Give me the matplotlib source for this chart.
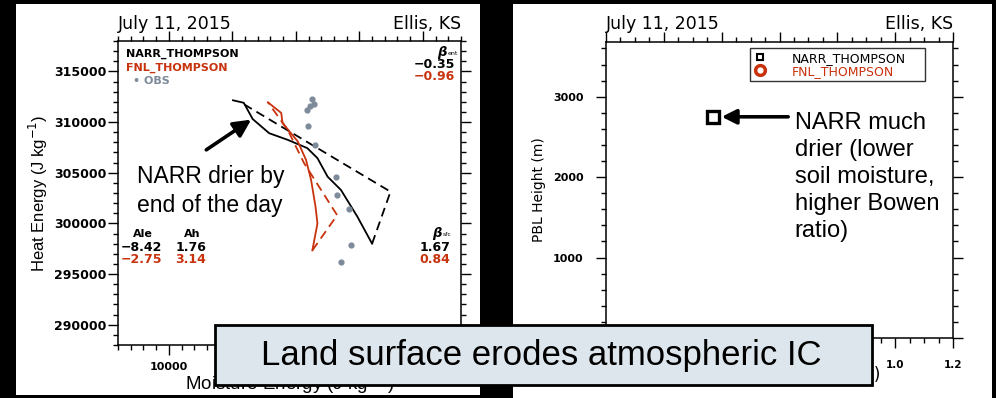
import matplotlib
matplotlib.use("Agg")
import matplotlib.pyplot as plt
from matplotlib.patches import Rectangle
from matplotlib.lines import Line2D
from matplotlib.ticker import MultipleLocator, FormatStrFormatter

plt.rcParams['font.family'] = ['DejaVu Sans']
SLIDE = ['Liberation Sans', 'DejaVu Sans']   # Arial-like font for the slide texts

RED = '#c8320c'
GREY = '#7d8a9a'

# left panel: heat energy vs moisture energy (J kg-1)
narr_me = [20100, 21800, 23200, 25800, 28700, 31800, 33400, 35000, 37100, 39700, 42000]
narr_he = [312150, 311900, 310300, 308900, 308250, 307430, 306440, 304610, 303300, 300650, 298000]
narr_close_me = [42000, 44900, 21900]
narr_close_he = [298000, 303130, 311730]

fnl_me = [25600, 27700, 27900, 30300, 31600, 32400, 33100, 33400, 32600]
fnl_he = [311950, 310900, 309910, 308090, 306270, 304290, 301640, 299990, 297340]
fnl_close_me = [32600, 36500, 31300, 28700, 25600]
fnl_close_he = [297340, 300810, 305940, 309250, 311950]

obs_me = [32600, 32800, 32250, 31700, 31850, 33000, 36300, 36500, 38350, 38700, 37150]
obs_he = [312320, 311800, 311560, 311230, 309570, 307760, 304610, 302800, 301380, 297870, 296220]

beta_ent = ['\u22120.35', '\u22120.96']
beta_sfc = ['1.67', '0.84']
ale = ['\u22128.42', '\u22122.75']
ah = ['1.76', '3.14']

# right panel: PBL height
narr_x = [0.37]
narr_pbl = [2750]

fig = plt.figure(figsize=(9.96, 3.98), dpi=100)
fig.patch.set_facecolor('black')

W, H = 996, 398


def fig_rect(x0, y0, x1, y1, **kw):
    # pixel box (top-left origin) -> figure fraction
    r = Rectangle((x0 / W, 1 - y1 / H), (x1 - x0) / W, (y1 - y0) / H,
                  transform=fig.transFigure, **kw)
    fig.patches.append(r)
    return r


fig_rect(16, 4, 480, 395, facecolor='white', edgecolor='none', zorder=-10)
fig_rect(513, 4, 992, 398, facecolor='white', edgecolor='none', zorder=-10)

ax1 = fig.add_axes([118 / W, 1 - 345 / H, 343 / W, 304 / H])
ax2 = fig.add_axes([606 / W, 1 - 338 / H, 347 / W, 296 / H])

for ax in (ax1, ax2):
    ax.tick_params(which='both', direction='out', top=True, right=True,
                   labeltop=False, labelright=False, width=1.0)
    ax.tick_params(which='major', length=7)
    ax.tick_params(which='minor', length=3.5)
    for s in ax.spines.values():
        s.set_linewidth(1.1)

# ---- left panel
ax1.plot(narr_me, narr_he, color='black', lw=1.3)
ax1.plot(narr_close_me, narr_close_he, color='black', lw=1.3, ls=(0, (5, 3)))
ax1.plot(fnl_me, fnl_he, color=RED, lw=1.3)
ax1.plot(fnl_close_me, fnl_close_he, color=RED, lw=1.3, ls=(0, (5, 3)))
ax1.scatter(obs_me, obs_he, s=12, color=GREY, zorder=3)

ax1.set_xlim(2000, 56000)
ax1.set_ylim(288000, 318000)
ax1.xaxis.set_major_locator(MultipleLocator(10000))
ax1.xaxis.set_minor_locator(MultipleLocator(2000))
ax1.yaxis.set_major_locator(MultipleLocator(5000))
ax1.yaxis.set_minor_locator(MultipleLocator(1000))
ax1.ticklabel_format(useOffset=False, style='plain')
ax1.tick_params(axis='y', labelsize=9, pad=1.5)
ax1.tick_params(axis='x', labelsize=8, pad=5)
for lab in ax1.get_xticklabels() + ax1.get_yticklabels():
    lab.set_fontweight('bold')
ax1.set_xlabel('Moisture Energy (J kg$^{-1}$)', fontsize=13.5, labelpad=-1,
               family=SLIDE)
ax1.set_ylabel('Heat Energy (J kg$^{-1}$)', fontsize=12, labelpad=3,
               family=SLIDE)

ax1.text(0.0, 1.039, 'July 11, 2015', transform=ax1.transAxes, fontsize=12.5,
         ha='left', va='baseline')
ax1.text(1.0, 1.039, 'Ellis, KS', transform=ax1.transAxes, fontsize=12.5,
         ha='right', va='baseline')

t = ax1.transAxes
ax1.text(0.023, 0.957, 'NARR_THOMPSON', transform=t, fontsize=8,
         fontweight='bold', color='black', va='center')
ax1.text(0.023, 0.911, 'FNL_THOMPSON', transform=t, fontsize=8,
         fontweight='bold', color=RED, va='center')
ax1.text(0.045, 0.868, '\u2022 OBS', transform=t, fontsize=8,
         fontweight='bold', color=GREY, va='center')

ax1.text(0.958, 0.962, '\u03b2', transform=t, fontsize=9.5, fontweight='bold',
         style='italic', ha='right', va='center')
ax1.text(0.960, 0.958, 'ent', transform=t, fontsize=4.5, ha='left', va='center')
ax1.text(0.982, 0.924, beta_ent[0], transform=t, fontsize=9,
         fontweight='bold', ha='right', va='center')
ax1.text(0.982, 0.882, beta_ent[1], transform=t, fontsize=9,
         fontweight='bold', ha='right', va='center', color=RED)

ax1.text(0.072, 0.365, 'Ale', transform=t, fontsize=8, fontweight='bold',
         ha='center', va='center')
ax1.text(0.215, 0.365, 'Ah', transform=t, fontsize=8, fontweight='bold',
         ha='center', va='center')
for i, c in enumerate(['black', RED]):
    yy = 0.322 - 0.042 * i
    ax1.text(0.068, yy, ale[i], transform=t, fontsize=9, fontweight='bold',
             ha='center', va='center', color=c)
    ax1.text(0.213, yy, ah[i], transform=t, fontsize=9, fontweight='bold',
             ha='center', va='center', color=c)
    ax1.text(0.968, yy, beta_sfc[i], transform=t, fontsize=9,
             fontweight='bold', ha='right', va='center', color=c)
ax1.text(0.945, 0.367, '\u03b2', transform=t, fontsize=9.5, fontweight='bold',
         style='italic', ha='right', va='center')
ax1.text(0.947, 0.362, 'sfc', transform=t, fontsize=4.5, ha='left', va='center')

ax1.annotate('', xy=(22970, 310240), xytext=(15900, 307260),
             arrowprops=dict(arrowstyle='-|>', color='black', lw=2.6,
                             mutation_scale=26, shrinkA=0, shrinkB=0))
ax1.text(0.055, 0.592, 'NARR drier by\nend of the day', transform=t,
         fontsize=16.5, ha='left', va='top', linespacing=1.33, family=SLIDE)

# ---- right panel
ax2.plot(narr_x, narr_pbl, ls='none', marker='s', ms=8, mfc='none',
         mec='black', mew=2.4)
ax2.set_xlim(0, 1.2)
ax2.set_ylim(0, 3680)
ax2.xaxis.set_major_locator(MultipleLocator(0.2))
ax2.xaxis.set_minor_locator(MultipleLocator(0.05))
ax2.yaxis.set_major_locator(MultipleLocator(1000))
ax2.yaxis.set_minor_locator(MultipleLocator(200))
ax2.xaxis.set_major_formatter(FormatStrFormatter('%.1f'))
ax2.tick_params(axis='y', labelsize=8, pad=9)
ax2.tick_params(axis='x', labelsize=7.5, pad=9)
for lab in ax2.get_xticklabels() + ax2.get_yticklabels():
    lab.set_fontweight('bold')
ax2.set_xlabel('Evaporative Fraction (-)', fontsize=12.3, labelpad=-3)
ax2.set_ylabel('PBL Height (m)', fontsize=10, labelpad=5)
ax2.text(0.0, 1.044, 'July 11, 2015', transform=ax2.transAxes, fontsize=12.5,
         ha='left', va='baseline')
ax2.text(1.0, 1.044, 'Ellis, KS', transform=ax2.transAxes, fontsize=12.5,
         ha='right', va='baseline')

handles = [Line2D([], [], ls='none', marker='s', ms=5, mfc='none', mec='black', mew=1.5),
           Line2D([], [], ls='none', marker='o', ms=7, mfc='white', mec=RED, mew=2.5)]
leg = ax2.legend(handles, ['NARR_THOMPSON', 'FNL_THOMPSON'],
                 loc='upper left', bbox_to_anchor=(0.415, 0.87, 0.504, 0.11),
                 mode='expand', frameon=True, fancybox=False, fontsize=9,
                 labelcolor=['black', RED], handletextpad=2.0,
                 borderpad=0.3, labelspacing=0.0, handlelength=1.0,
                 borderaxespad=0)
leg.get_frame().set_edgecolor('black')
leg.get_frame().set_linewidth(1.0)

ax2.annotate('', xy=(0.40, 2750), xytext=(0.63, 2750),
             arrowprops=dict(arrowstyle='-|>', color='black', lw=2.6,
                             mutation_scale=22, shrinkA=0, shrinkB=0))
ax2.text(0.652, 2810, 'NARR much\ndrier (lower\nsoil moisture,\nhigher Bowen\nratio)',
         fontsize=17, ha='left', va='top', linespacing=1.3, family=SLIDE)

# ---- overlay caption box
fig_rect(215, 325, 872, 385, facecolor='#dce6ec', edgecolor='black',
         lw=2.0, zorder=10)
fig.text(541 / W, 1 - 355 / H, 'Land surface erodes atmospheric IC',
         fontsize=25, ha='center', va='center', zorder=11, family=SLIDE)

fig.savefig('out.png', dpi=100, facecolor=fig.get_facecolor())
